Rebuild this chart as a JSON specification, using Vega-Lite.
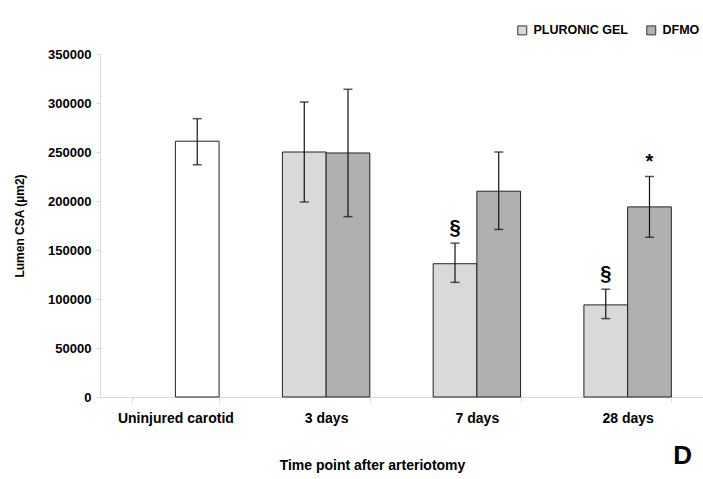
{
  "$schema": "https://vega.github.io/schema/vega-lite/v6.json",
  "width": 603,
  "height": 343,
  "autosize": {"type": "none"},
  "padding": {"left": 100, "top": 54, "right": 0, "bottom": 82},
  "background": "white",
  "config": {"view": {"stroke": null}, "font": "Liberation Sans"},
  "title": {"text": "D", "orient": "bottom", "anchor": "end", "fontSize": 26, "fontWeight": "bold", "color": "black", "offset": -29, "dx": -11},
  "data": {"values": [
    {"time": "Uninjured carotid", "group": "Uninjured", "mean": 261000, "lo": 237000, "hi": 284000, "sig": ""},
    {"time": "3 days", "group": "PLURONIC GEL", "mean": 250000, "lo": 199000, "hi": 301000, "sig": ""},
    {"time": "3 days", "group": "DFMO", "mean": 249000, "lo": 184000, "hi": 314000, "sig": ""},
    {"time": "7 days", "group": "PLURONIC GEL", "mean": 136000, "lo": 117000, "hi": 157000, "sig": "§"},
    {"time": "7 days", "group": "DFMO", "mean": 210000, "lo": 171000, "hi": 250000, "sig": ""},
    {"time": "28 days", "group": "PLURONIC GEL", "mean": 94000, "lo": 80000, "hi": 110000, "sig": "§"},
    {"time": "28 days", "group": "DFMO", "mean": 194000, "lo": 163000, "hi": 225000, "sig": "*"}
  ]},
  "transform": [{"calculate": "datum.group === 'PLURONIC GEL' ? 'left' : 'right'", "as": "slot"}],
  "encoding": {
    "x": {
      "field": "time", "type": "nominal",
      "sort": ["Uninjured carotid", "3 days", "7 days", "28 days"],
      "scale": {"paddingInner": 0.42, "paddingOuter": 0.21},
      "axis": {
        "labelAngle": 0, "labelFontSize": 14, "labelFontWeight": "bold", "labelColor": "black",
        "labelPadding": 9, "tickBand": "extent", "tickSize": 5, "tickColor": "#d9d9d9",
        "domainColor": "#d9d9d9", "title": "Time point after arteriotomy",
        "titleFontSize": 14, "titleFontWeight": "bold", "titleColor": "black", "titlePadding": 33, "titleX": 272
      }
    },
    "xOffset": {"field": "slot", "type": "nominal", "scale": {"domain": ["left", "right"], "paddingInner": 0, "paddingOuter": 0}}
  },
  "layer": [
    {
      "mark": {"type": "bar", "stroke": "#222", "strokeWidth": 1},
      "encoding": {
        "y": {
          "field": "mean", "type": "quantitative", "scale": {"domain": [0, 350000]},
          "axis": {
            "values": [0, 50000, 100000, 150000, 200000, 250000, 300000, 350000], "format": "d",
            "grid": false, "labelFontSize": 13, "labelFontWeight": "bold", "labelColor": "black",
            "tickSize": 4, "tickColor": "#d9d9d9", "domainColor": "#d9d9d9", "labelPadding": 5,
            "title": "Lumen CSA (µm2)", "titleFontSize": 12, "titleFontWeight": "bold", "titleColor": "black", "titlePadding": 21
          }
        },
        "color": {
          "field": "group", "type": "nominal",
          "scale": {"domain": ["PLURONIC GEL", "DFMO", "Uninjured"], "range": ["#d9d9d9", "#b0b0b0", "#ffffff"]},
          "legend": {
            "values": ["PLURONIC GEL", "DFMO"], "title": null, "orient": "none", "direction": "horizontal",
            "legendX": 416, "legendY": -30, "symbolType": "square", "symbolSize": 80,
            "symbolStrokeColor": "#333", "symbolStrokeWidth": 1, "symbolOpacity": 1,
            "labelFontSize": 12.5, "labelFontWeight": "bold", "labelColor": "black", "columnPadding": 16, "labelOffset": 5
          }
        }
      }
    },
    {
      "mark": {"type": "rule", "color": "#111", "strokeWidth": 1.2},
      "encoding": {"y": {"field": "lo", "type": "quantitative"}, "y2": {"field": "hi"}}
    },
    {
      "mark": {"type": "tick", "color": "#111", "size": 9, "thickness": 1.5, "orient": "horizontal"},
      "encoding": {"y": {"field": "lo", "type": "quantitative"}}
    },
    {
      "mark": {"type": "tick", "color": "#111", "size": 9, "thickness": 1.5, "orient": "horizontal"},
      "encoding": {"y": {"field": "hi", "type": "quantitative"}}
    },
    {
      "mark": {"type": "text", "baseline": "bottom", "dy": -5, "fontSize": 20, "fontWeight": "bold", "color": "black"},
      "encoding": {"y": {"field": "hi", "type": "quantitative"}, "text": {"field": "sig"}}
    }
  ]
}
